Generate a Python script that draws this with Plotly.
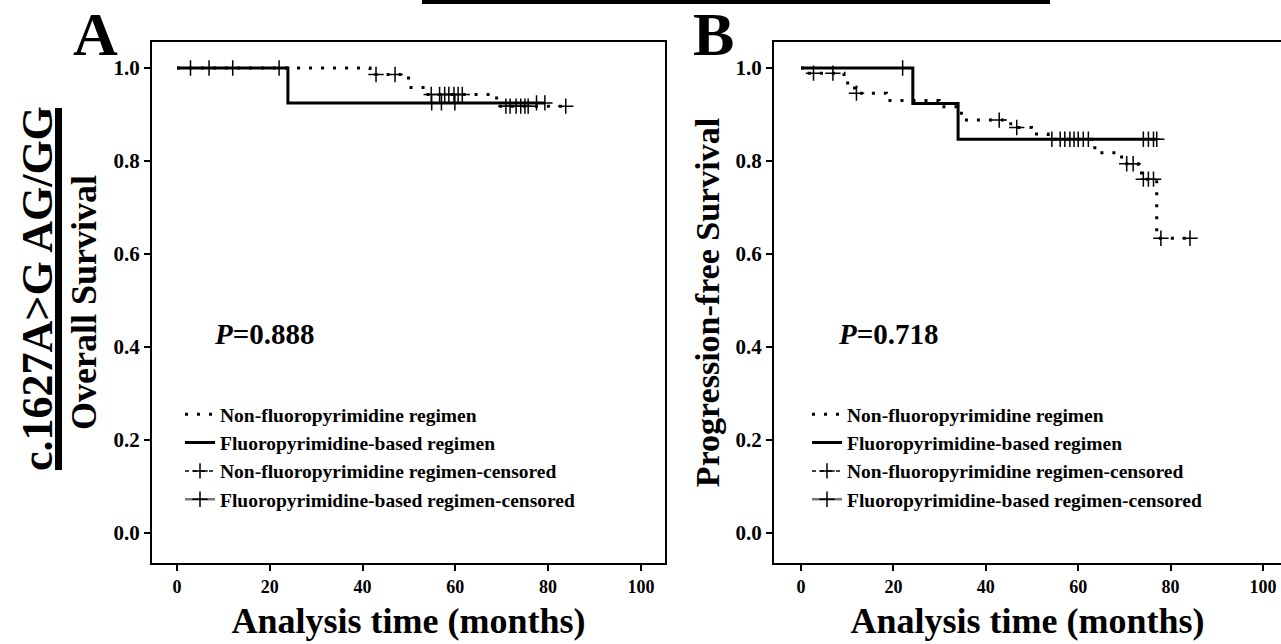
import plotly.graph_objects as go

# ---------------- data ----------------
# Panel A: Overall survival
A_NON_T = [0, 41.6, 49.9, 53.4, 68.9, 83.8]
A_NON_S = [1.0, 0.986, 0.958, 0.943, 0.918, 0.918]
A_NON_CENS = [2.9, 6.9, 12.0, 42.9, 47.0, 54.8, 56.6, 57.7, 58.6, 59.7, 60.6, 61.5,
              70.9, 71.8, 73.1, 74.1, 75.0, 75.7, 83.8]
A_FLU_T = [0, 23.9, 79.3]
A_FLU_S = [1.0, 0.925, 0.925]
A_FLU_CENS = [22.0, 54.9, 57.0, 59.9, 77.5, 79.3]
A_P = "0.888"

# Panel B: Progression-free survival
B_NON_T = [0, 1.2, 9.3, 11.0, 11.9, 18.5, 29.9, 33.7, 35.1, 44.2, 46.3, 49.9, 53.5,
           63.6, 69.4, 73.0, 73.7, 77.0, 84.2]
B_NON_S = [1.0, 0.989, 0.968, 0.957, 0.946, 0.930, 0.917, 0.903, 0.888, 0.880, 0.872,
           0.858, 0.847, 0.818, 0.794, 0.785, 0.761, 0.634, 0.634]
B_NON_CENS = [2.7, 6.9, 12.0, 42.9, 46.7, 54.3, 56.1, 57.1, 58.2, 59.1, 60.0, 61.1, 62.2,
              70.5, 71.9, 74.1, 75.2, 76.3, 77.9, 84.2]
B_FLU_T = [0, 24.2, 34.0, 77.0]
B_FLU_S = [1.0, 0.924, 0.847, 0.847]
B_FLU_CENS = [22.0, 74.1, 75.2, 76.3, 77.0]
B_P = "0.718"

NAMES = ["Non-fluoropyrimidine regimen", "Fluoropyrimidine-based regimen",
         "Non-fluoropyrimidine regimen-censored", "Fluoropyrimidine-based regimen-censored"]
X_TICKS = [0, 20, 40, 60, 80, 100]
Y_TICKS = [0.0, 0.2, 0.4, 0.6, 0.8, 1.0]

FONT = "Liberation Serif, Times New Roman, serif"
W, H = 1281, 644


def surv_at(t, times, survs):
    val = survs[0]
    for ti, si in zip(times, survs):
        if ti <= t:
            val = si
    return val


def cens_xy(cens, times, survs):
    xs, ys = [], []
    for t in cens:
        xs += [t, None]
        ys += [surv_at(t, times, survs), None]
    return xs, ys


fig = go.Figure()


def add_panel(xa, ya, leg, non_t, non_s, non_c, flu_t, flu_s, flu_c):
    fig.add_trace(go.Scatter(x=non_t, y=non_s, mode="lines", line_shape="hv",
                             line=dict(color="black", width=3, dash="3px,9px"),
                             name=NAMES[0], xaxis=xa, yaxis=ya, legend=leg))
    fig.add_trace(go.Scatter(x=flu_t, y=flu_s, mode="lines", line_shape="hv",
                             line=dict(color="black", width=3),
                             name=NAMES[1], xaxis=xa, yaxis=ya, legend=leg))
    cx, cy = cens_xy(non_c, non_t, non_s)
    fig.add_trace(go.Scatter(x=cx, y=cy, mode="lines+markers",
                             line=dict(color="black", width=1.5, dash="4px,4px"),
                             marker=dict(symbol="cross-thin", size=11, color="black",
                                         line=dict(color="black", width=1.5)),
                             name=NAMES[2], xaxis=xa, yaxis=ya, legend=leg))
    cx, cy = cens_xy(flu_c, flu_t, flu_s)
    fig.add_trace(go.Scatter(x=cx, y=cy, mode="lines+markers",
                             line=dict(color="#777777", width=2.5),
                             marker=dict(symbol="cross-thin", size=11, color="black",
                                         line=dict(color="black", width=1.5)),
                             name=NAMES[3], xaxis=xa, yaxis=ya, legend=leg))


add_panel("x", "y", "legend", A_NON_T, A_NON_S, A_NON_CENS, A_FLU_T, A_FLU_S, A_FLU_CENS)
add_panel("x2", "y2", "legend2", B_NON_T, B_NON_S, B_NON_CENS, B_FLU_T, B_FLU_S, B_FLU_CENS)

xtickfont = dict(family=FONT, size=18, color="black", weight="bold")
ytickfont = dict(family=FONT, size=21, color="black", weight="bold")


def tfont(size):
    return dict(family=FONT, size=size, color="black", weight="bold")


def xaxis(domain, rng, mirror):
    return dict(domain=domain, range=rng, tickvals=X_TICKS, ticks="outside", ticklen=6,
                tickwidth=1.5, tickcolor="black", showline=True, linewidth=2,
                linecolor="black", mirror=mirror, showgrid=False, zeroline=False,
                tickfont=xtickfont, automargin=False,
                title=dict(text="Analysis time (months)", font=tfont(36), standoff=12))


def yaxis(domain, title, size, mirror, anchor):
    return dict(domain=domain, range=[-0.0645, 1.056], tickvals=Y_TICKS, tickformat=".1f",
                ticks="outside", ticklen=6, tickwidth=1.5, tickcolor="black",
                showline=True, linewidth=2, linecolor="black", mirror=mirror,
                showgrid=False, zeroline=False, tickfont=ytickfont, automargin=False,
                anchor=anchor,
                title=dict(text=title, font=tfont(size), standoff=6))


ydom = [1 - 563 / H, 1 - 42 / H]
legfont = dict(family=FONT, size=19.5, color="black", weight="bold")

fig.update_layout(
    template="none",
    width=W, height=H,
    margin=dict(l=0, r=0, t=0, b=0),
    paper_bgcolor="white", plot_bgcolor="white",
    xaxis=xaxis([152 / W, 665 / W], [-5.4, 105.2], True),
    yaxis=yaxis(ydom, "Overall Survival", 36, True, "x"),
    xaxis2=xaxis([774 / W, 1.0], [-5.85, 103.9], True) | dict(anchor="y2"),
    yaxis2=yaxis(ydom, "Progression-free Survival", 34, False, "x2"),
    legend=dict(x=180 / W, y=1 - 395 / H, xanchor="left", yanchor="top",
                bgcolor="rgba(0,0,0,0)", borderwidth=0, font=legfont,
                tracegroupgap=0, itemwidth=30),
    legend2=dict(x=807 / W, y=1 - 395 / H, xanchor="left", yanchor="top",
                 bgcolor="rgba(0,0,0,0)", borderwidth=0, font=legfont,
                 tracegroupgap=0, itemwidth=30),
    showlegend=True,
)

# P values
for xa, ya, p in [("x", "y", A_P), ("x2", "y2", B_P)]:
    fig.add_annotation(x=7.5, y=0.428, xref=xa, yref=ya, xanchor="left", yanchor="middle",
                       showarrow=False, text="<i>P</i>=" + p,
                       font=dict(family=FONT, size=29, color="black", weight="bold"))

# Panel letters
fig.add_annotation(x=95 / W, y=1 - 34 / H, xref="paper", yref="paper", showarrow=False,
                   xanchor="center", yanchor="middle",
                   text="A", font=dict(family=FONT, size=62, color="black", weight="bold"))
fig.add_annotation(x=714 / W, y=1 - 34 / H, xref="paper", yref="paper", showarrow=False,
                   xanchor="center", yanchor="middle",
                   text="B", font=dict(family=FONT, size=62, color="black", weight="bold"))

# Genotype label with vertical bar
fig.add_annotation(x=38 / W, y=1 - 289 / H, xref="paper", yref="paper", showarrow=False,
                   xanchor="center", yanchor="middle",
                   textangle=-90, text="c.1627A&gt;G AG/GG",
                   font=dict(family=FONT, size=44, color="black", weight="bold"))
fig.add_shape(type="rect", xref="paper", yref="paper", x0=55 / W, x1=62 / W,
              y0=1 - 470 / H, y1=1 - 108 / H, fillcolor="black", line_width=0)
# Top bar
fig.add_shape(type="rect", xref="paper", yref="paper", x0=422 / W, x1=1050 / W,
              y0=1 - 4 / H, y1=1.0, fillcolor="black", line_width=0)

fig.write_html("out.html", config={"displayModeBar": False},
               post_script="document.body.style.margin='0';document.body.style.overflow='hidden';")
